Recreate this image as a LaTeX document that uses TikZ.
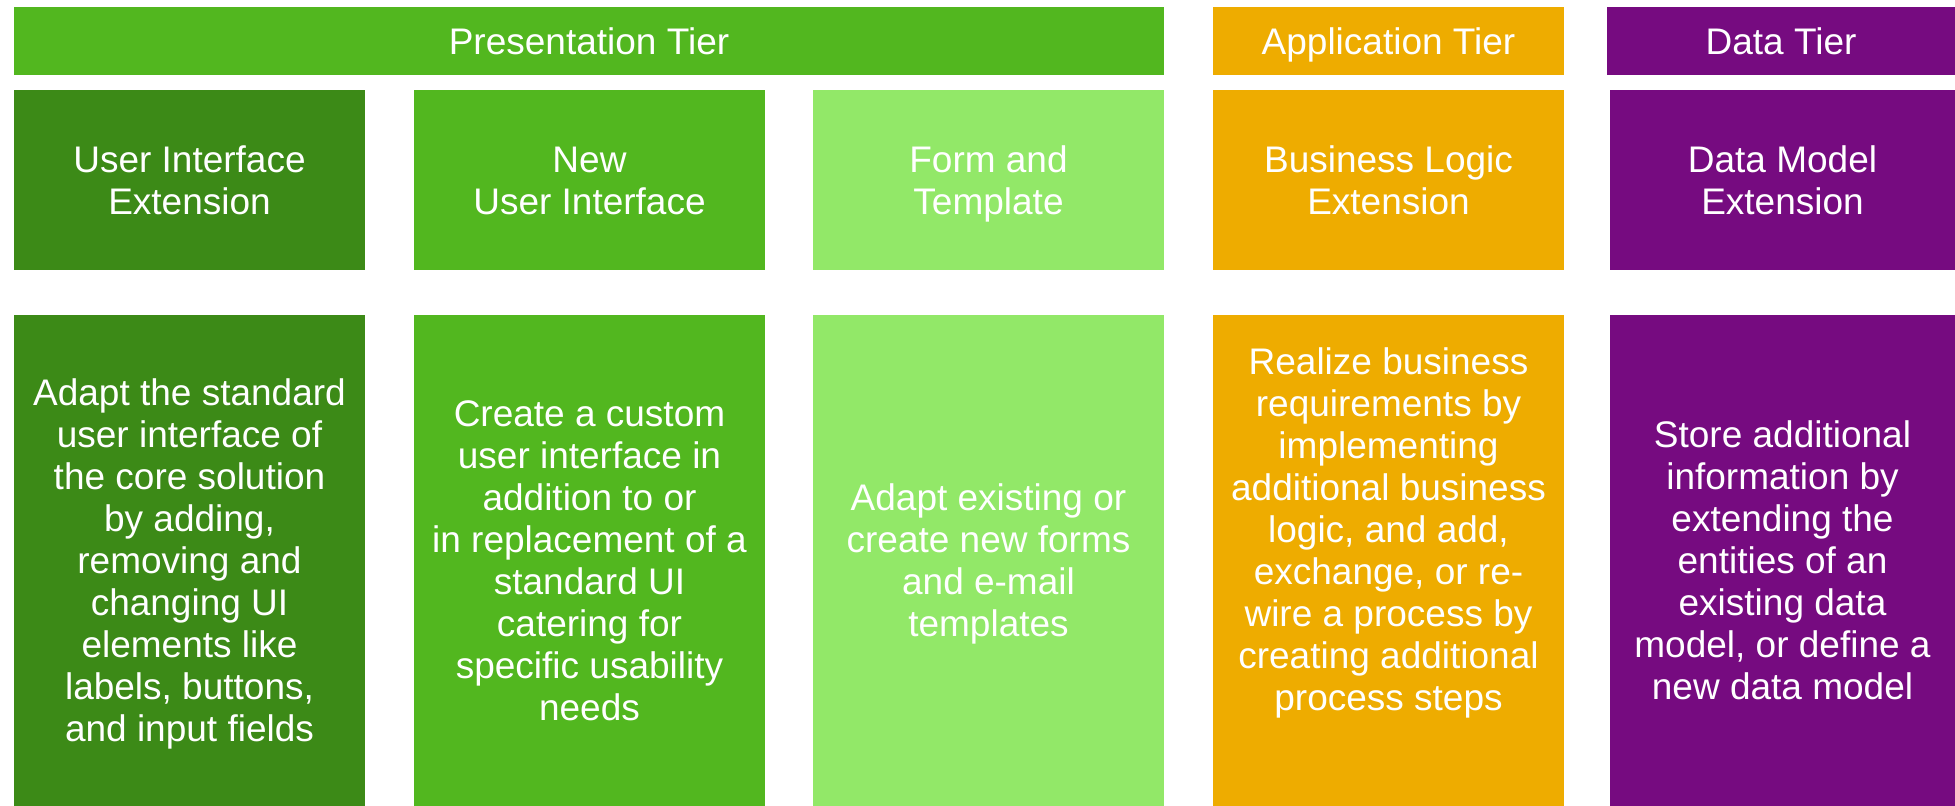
\documentclass[tikz,border=0pt]{standalone}
\usepackage{fontspec}
\setmainfont{Liberation Sans}
\definecolor{dkgreen}{HTML}{3C8A17}
\definecolor{mdgreen}{HTML}{52B71F}
\definecolor{ltgreen}{HTML}{92E868}
\definecolor{appor}{HTML}{EEAC00}
\definecolor{datapu}{HTML}{760B80}
\begin{document}
\begin{tikzpicture}[x=1pt,y=1pt,
  box/.style={rectangle, inner sep=0pt, outer sep=0pt, draw=none},
  hdr/.style={box, minimum height=68pt},
  ttl/.style={box, minimum height=180pt, minimum width=351pt},
  desc/.style={box, minimum height=491pt, minimum width=351pt},
  lab/.style={text=white, align=center, inner sep=0pt, yshift=-4.85pt,
    font=\fontsize{37}{42}\selectfont}]
\useasboundingbox (0,0) rectangle (1955,-806);
% tier headers
\node[hdr, fill=mdgreen, minimum width=1150pt] (pres) at (589,-41) {};
\node[hdr, fill=appor, minimum width=351pt] (app) at (1388.5,-41) {};
\node[hdr, fill=datapu, minimum width=348pt] (data) at (1781,-41) {};
\node[lab] (presl) at (pres.center) {\strut Presentation Tier\strut};
\node[lab] (appl) at (app.center) {\strut Application Tier\strut};
\node[lab] (datal) at (data.center) {\strut Data Tier\strut};
% titles
\node[ttl, fill=dkgreen] (t1) at (189.5,-180) {};
\node[ttl, fill=mdgreen] (t2) at (589.5,-180) {};
\node[ttl, fill=ltgreen] (t3) at (988.5,-180) {};
\node[ttl, fill=appor] (t4) at (1388.5,-180) {};
\node[ttl, fill=datapu, minimum width=345pt] (t5) at (1782.5,-180) {};
\node[lab] (t1l) at (t1.center) {\strut User Interface\\Extension\strut};
\node[lab] (t2l) at (t2.center) {\strut New\\User Interface\strut};
\node[lab] (t3l) at (t3.center) {\strut Form and\\Template\strut};
\node[lab] (t4l) at (t4.center) {\strut Business Logic\\Extension\strut};
\node[lab] (t5l) at (t5.center) {\strut Data Model\\Extension\strut};
% descriptions
\node[desc, fill=dkgreen] (d1) at (189.5,-560.5) {};
\node[desc, fill=mdgreen] (d2) at (589.5,-560.5) {};
\node[desc, fill=ltgreen] (d3) at (988.5,-560.5) {};
\node[desc, fill=appor] (d4) at (1388.5,-560.5) {};
\node[desc, fill=datapu, minimum width=345pt] (d5) at (1782.5,-560.5) {};
\node[lab] (d1l) at (d1.center) {\strut Adapt the standard\\user interface of\\the core solution\\by adding,\\removing and\\changing UI\\elements like\\labels, buttons,\\and input fields\strut};
\node[lab] (d2l) at (d2.center) {\strut Create a custom\\user interface in\\addition to or\\in replacement of a\\standard UI\\catering for\\specific usability\\needs\strut};
\node[lab] (d3l) at (d3.center) {\strut Adapt existing or\\create new forms\\and e-mail\\templates\strut};
\node[lab] (d4l) at ([yshift=31pt]d4.center) {\strut Realize business\\requirements by\\implementing\\additional business\\logic, and add,\\exchange, or re-\\wire a process by\\creating additional\\process steps\strut};
\node[lab] (d5l) at (d5.center) {\strut Store additional\\information by\\extending the\\entities of an\\existing data\\model, or define a\\new data model\strut};
\end{tikzpicture}
\end{document}
